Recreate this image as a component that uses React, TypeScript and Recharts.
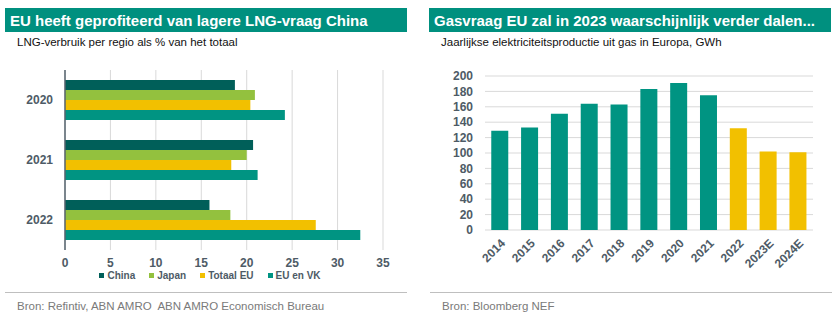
import React from 'react';
import { BarChart, Bar, XAxis, YAxis, CartesianGrid, Cell, ReferenceLine } from 'recharts';

if (typeof document !== 'undefined') document.body.style.margin = '0';

const FONT = '"Liberation Sans", Arial, sans-serif';
const HEADER = '#00907f';
const AXIS = '#56636e';
const LABEL = '#4e5b66';
const GRID = '#d9d9d9';

// links: LNG-verbruik per regio (% van totaal)
const regioYears = ['2020', '2021', '2022'];
const china = [18.7, 20.7, 15.9];
const japan = [20.9, 20.0, 18.2];
const totaalEu = [20.4, 18.3, 27.6];
const euEnVk = [24.2, 21.2, 32.5];
const shareTicks = [0, 5, 10, 15, 20, 25, 30, 35];

const regioSeries = [
  { key: 'china', name: 'China', color: '#005f59' },
  { key: 'japan', name: 'Japan', color: '#93c13e' },
  { key: 'totaalEu', name: 'Totaal EU', color: '#f2c000' },
  { key: 'euEnVk', name: 'EU en VK', color: '#009482' },
];

// rechts: elektriciteitsproductie uit gas, GWh
const gasYears = ['2014', '2015', '2016', '2017', '2018', '2019', '2020', '2021', '2022', '2023E', '2024E'];
const gasGwh = [129, 133, 151, 164, 163, 183, 191, 175, 132, 102, 101];
const gasTicks = [0, 20, 40, 60, 80, 100, 120, 140, 160, 180, 200];
const firstYellow = 8; // vanaf 2022
const trendArrow = [{ x: 8.2, y: 188 }, { x: 10.14, y: 133 }];

const regioData = regioYears.map((year, i) => ({
  year,
  china: china[i],
  japan: japan[i],
  totaalEu: totaalEu[i],
  euEnVk: euEnVk[i],
}));
const gasData = gasYears.map((year, i) => ({ year, value: gasGwh[i] }));

const boundaryTicksLeft = regioYears.map((_, i) => i).concat(regioYears.length);
const boundaryTicksBottom = gasYears.map((_, i) => i).concat(gasYears.length);

const tickStyle = { fill: LABEL, fontSize: 12, fontWeight: 700, fontFamily: FONT };

function TrendArrow(props: any) {
  const { x1, y1, x2, y2 } = props;
  const ang = Math.atan2(y2 - y1, x2 - x1);
  const len = 10;
  const half = 4.5;
  const bx = x2 - len * Math.cos(ang);
  const by = y2 - len * Math.sin(ang);
  const pts = [
    [x2, y2],
    [bx + half * Math.sin(ang), by - half * Math.cos(ang)],
    [bx - half * Math.sin(ang), by + half * Math.cos(ang)],
  ]
    .map((p) => p.join(','))
    .join(' ');
  return (
    <g>
      <line x1={x1} y1={y1} x2={bx} y2={by} stroke="#444" strokeWidth={1} strokeDasharray="2 2" />
      <polygon points={pts} fill="#111" />
    </g>
  );
}

function Header({ left, title, sub }: { left: number; title: string; sub: string }) {
  return (
    <>
      <div
        style={{
          position: 'absolute',
          left,
          top: 8,
          width: 402,
          height: 24,
          background: HEADER,
          color: '#fff',
          fontFamily: FONT,
          fontWeight: 700,
          fontSize: 15,
          lineHeight: '25px',
          paddingLeft: 5,
          boxSizing: 'border-box',
          whiteSpace: 'nowrap',
        }}
      >
        {title}
      </div>
      <div
        style={{
          position: 'absolute',
          left: left + 12,
          top: 36,
          fontFamily: FONT,
          fontSize: 11.5,
          color: '#111',
          whiteSpace: 'nowrap',
        }}
      >
        {sub}
      </div>
    </>
  );
}

function Footer({ left, text }: { left: number; text: string }) {
  return (
    <>
      <div style={{ position: 'absolute', left, top: 292, width: 402, height: 1, background: '#bfbfbf' }} />
      <div
        style={{
          position: 'absolute',
          left: left + 12,
          top: 300,
          fontFamily: FONT,
          fontSize: 11.5,
          color: '#7a7a7a',
          whiteSpace: 'pre',
        }}
      >
        {text}
      </div>
    </>
  );
}

export default function App() {
  return (
    <div style={{ position: 'relative', width: 838, height: 329, background: '#fff', overflow: 'hidden' }}>
      <Header left={5} title="EU heeft geprofiteerd van lagere LNG-vraag China" sub="LNG-verbruik per regio als % van het totaal" />
      <Header left={429} title="Gasvraag EU zal in 2023 waarschijnlijk verder dalen..." sub="Jaarlijkse elektriciteitsproductie uit gas in Europa, GWh" />

      <div style={{ position: 'absolute', left: 0, top: 55 }}>
        <BarChart
          width={420}
          height={225}
          data={regioData}
          layout="vertical"
          margin={{ top: 15, right: 37, left: 0, bottom: 10 }}
          barCategoryGap="16.7%"
          barGap={0}
        >
          <CartesianGrid horizontal={false} stroke={GRID} yAxisId="cat" />
          <XAxis
            type="number"
            domain={[0, 35]}
            ticks={shareTicks}
            interval={0}
            axisLine={false}
            tickLine={false}
            tickSize={0}
            tickMargin={8}
            height={20}
            tick={tickStyle}
          />
          <YAxis
            yAxisId="edge"
            type="number"
            domain={[0, regioYears.length]}
            ticks={boundaryTicksLeft}
            interval={0}
            tick={false}
            tickSize={4}
            tickLine={{ stroke: AXIS, strokeWidth: 1.5 }}
            axisLine={false}
            width={0}
          />
          <YAxis
            yAxisId="cat"
            type="category"
            dataKey="year"
            width={65}
            axisLine={{ stroke: AXIS, strokeWidth: 1.5 }}
            tickLine={false}
            tickSize={0}
            tickMargin={12}
            tick={tickStyle}
          />
          {regioSeries.map((s) => (
            <Bar key={s.key} yAxisId="cat" dataKey={s.key} name={s.name} fill={s.color} isAnimationActive={false} />
          ))}
        </BarChart>
      </div>

      <div
        style={{
          position: 'absolute',
          left: 0,
          top: 270,
          width: 420,
          display: 'flex',
          justifyContent: 'center',
          gap: 14,
          fontFamily: FONT,
          fontSize: 10,
          fontWeight: 700,
          color: LABEL,
        }}
      >
        {regioSeries.map((s) => (
          <div key={s.key} style={{ display: 'flex', alignItems: 'center', gap: 3 }}>
            <span style={{ width: 5, height: 5, background: s.color, display: 'inline-block' }} />
            <span>{s.name}</span>
          </div>
        ))}
      </div>

      <div style={{ position: 'absolute', left: 420, top: 55 }}>
        <BarChart
          width={418}
          height={230}
          data={gasData}
          margin={{ top: 21, right: 25, left: 5, bottom: 5 }}
          barCategoryGap="21%"
        >
          <CartesianGrid vertical={false} stroke={GRID} xAxisId="cat" />
          <XAxis
            xAxisId="edge"
            type="number"
            domain={[0, gasYears.length]}
            ticks={boundaryTicksBottom}
            interval={0}
            tick={false}
            tickSize={4}
            tickLine={{ stroke: AXIS, strokeWidth: 1.5 }}
            axisLine={{ stroke: AXIS, strokeWidth: 2 }}
            height={0}
          />
          <XAxis
            xAxisId="cat"
            dataKey="year"
            axisLine={false}
            tickLine={false}
            tickSize={0}
            tickMargin={8}
            angle={-45}
            textAnchor="end"
            interval={0}
            height={50}
            tick={tickStyle}
          />
          <YAxis
            domain={[0, 200]}
            ticks={gasTicks}
            interval={0}
            width={60}
            axisLine={false}
            tickLine={false}
            tickSize={0}
            tickMargin={12}
            tick={tickStyle}
          />
          <Bar xAxisId="cat" dataKey="value" isAnimationActive={false}>
            {gasData.map((d, i) => (
              <Cell key={d.year} fill={i >= firstYellow ? '#f2c000' : '#009482'} />
            ))}
          </Bar>
          <ReferenceLine xAxisId="edge" segment={trendArrow} shape={TrendArrow} />
        </BarChart>
      </div>

      <Footer left={5} text="Bron: Refintiv, ABN AMRO  ABN AMRO Economisch Bureau" />
      <Footer left={430} text="Bron: Bloomberg NEF" />
    </div>
  );
}
